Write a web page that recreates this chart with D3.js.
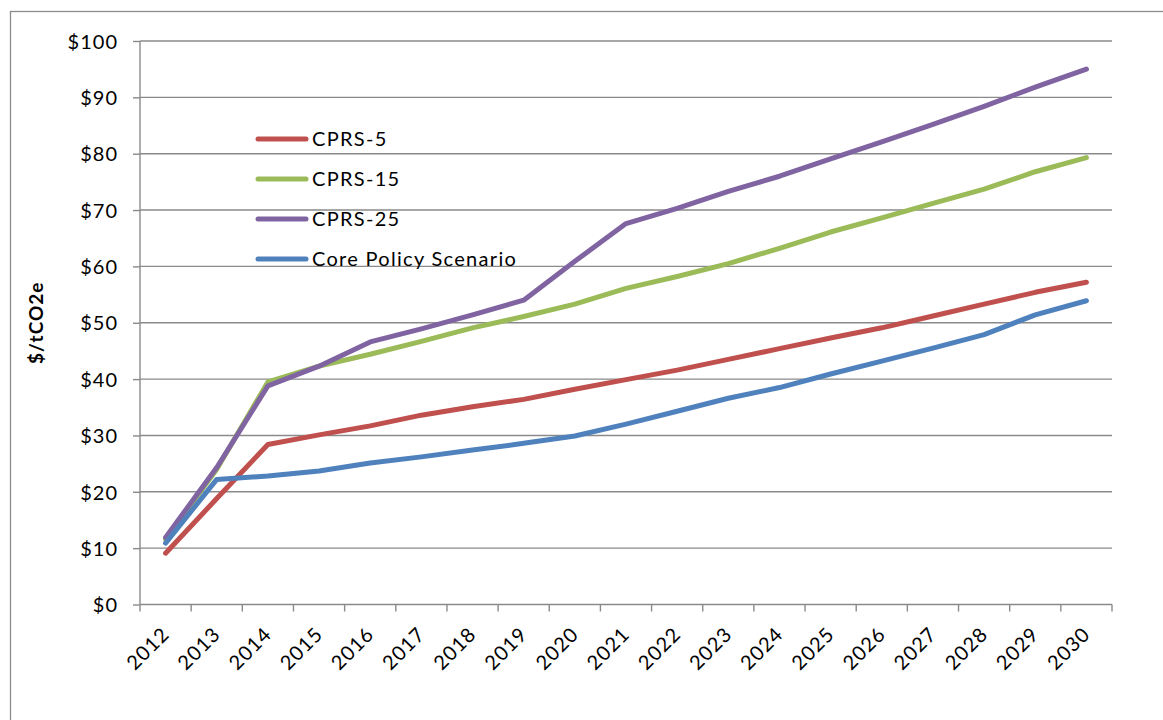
<!DOCTYPE html>
<html>
<head>
<meta charset="utf-8">
<script src="https://cdn.jsdelivr.net/npm/d3@7"></script>
<style>
  html, body { margin: 0; padding: 0; background: #fff; }
  svg { display: block; }
  text { font-family: Lato, "Open Sans", "DejaVu Sans", sans-serif; fill: #000; }
</style>
</head>
<body>
<svg id="chart" width="1163" height="720"></svg>
<script>
// Carbon price paths, $/tCO2e, 2012–2030
const years = ["2012","2013","2014","2015","2016","2017","2018","2019","2020","2021",
               "2022","2023","2024","2025","2026","2027","2028","2029","2030"];
const cprs5  = [9.1, 18.8, 28.4, 30.1, 31.7, 33.6, 35.1, 36.4, 38.2, 39.9,
                41.6, 43.5, 45.4, 47.3, 49.1, 51.2, 53.3, 55.4, 57.2];
const cprs15 = [11.6, 24.0, 39.5, 42.3, 44.4, 46.7, 49.1, 51.1, 53.3, 56.1,
                58.2, 60.5, 63.2, 66.1, 68.6, 71.2, 73.7, 76.8, 79.3];
const cprs25 = [11.9, 24.3, 38.8, 42.3, 46.6, 48.9, 51.4, 54.0, 60.9, 67.6,
                70.3, 73.3, 76.0, 79.1, 82.1, 85.2, 88.4, 91.8, 95.0];
const core   = [10.9, 22.2, 22.8, 23.7, 25.1, 26.2, 27.4, 28.6, 29.9, 32.0,
                34.3, 36.6, 38.5, 40.9, 43.2, 45.5, 47.9, 51.4, 53.9];
const seriesNames  = ["CPRS-5", "CPRS-15", "CPRS-25", "Core Policy Scenario"];
const seriesColors = ["#C0504D", "#9BBB59", "#8064A2", "#4F81BD"];
const yTicks = [0, 10, 20, 30, 40, 50, 60, 70, 80, 90, 100];
const yTitle = "$/tCO2e";

const series = [cprs5, cprs15, cprs25, core].map((vals, i) => ({
  name: seriesNames[i], color: seriesColors[i], values: vals
}));

const svg = d3.select("#chart");
const W = 1163, H = 720;
const plot = { left: 140, right: 1112, top: 41, bottom: 604.5 };

// outer chart frame (runs past the canvas on the right and bottom)
svg.append("rect")
  .attr("x", 10.5).attr("y", 11.5)
  .attr("width", W + 20).attr("height", H + 20)
  .attr("fill", "none").attr("stroke", "#8c8c8c").attr("stroke-width", 1.3);

const x = d3.scaleBand().domain(years).range([plot.left, plot.right]).padding(0);
const y = d3.scaleLinear().domain([0, 100]).range([plot.bottom, plot.top]);

// horizontal gridlines
svg.append("g")
  .selectAll("line")
  .data(yTicks.filter(d => d > 0))
  .join("line")
  .attr("x1", plot.left).attr("x2", plot.right)
  .attr("y1", d => y(d)).attr("y2", d => y(d))
  .attr("stroke", "#8a8a8a").attr("stroke-width", 1.4);

// y axis
const yAxis = svg.append("g")
  .attr("transform", `translate(${plot.left},0)`)
  .call(d3.axisLeft(y).tickValues(yTicks).tickSize(7).tickPadding(15)
    .tickFormat(d => "$" + d));
yAxis.selectAll("path, line").attr("stroke", "#8a8a8a").attr("stroke-width", 1.4);
yAxis.select(".domain").attr("d", `M0,${plot.top}V${plot.bottom}`);
yAxis.selectAll("text")
  .style("font-family", "Lato, 'Open Sans', sans-serif")
  .style("font-size", "20px").style("letter-spacing", "1px")
  .attr("dy", "0.36em");

// x axis: ticks on band boundaries, labels at band centres
const xAxisG = svg.append("g").attr("transform", `translate(0,${plot.bottom})`);
xAxisG.append("line")
  .attr("x1", plot.left).attr("x2", plot.right)
  .attr("stroke", "#8a8a8a").attr("stroke-width", 1.4);
const bounds = years.map(d => x(d)).concat([x(years[years.length - 1]) + x.bandwidth()]);
xAxisG.selectAll("line.tick")
  .data(bounds)
  .join("line").attr("class", "tick")
  .attr("x1", d => d).attr("x2", d => d)
  .attr("y1", 0).attr("y2", 7)
  .attr("stroke", "#8a8a8a").attr("stroke-width", 1.4);
xAxisG.selectAll("text")
  .data(years)
  .join("text")
  .attr("transform", d => `translate(${x(d) + x.bandwidth() / 2 + 5},${31}) rotate(-45)`)
  .attr("text-anchor", "end")
  .style("font-size", "20px").style("letter-spacing", "1px")
  .text(d => d);

// y axis title
svg.append("text")
  .attr("transform", `translate(43,${(plot.top + plot.bottom) / 2}) rotate(-90)`)
  .attr("text-anchor", "middle")
  .style("font-size", "19px").style("font-weight", "bold").style("letter-spacing", "1px")
  .text(yTitle);

// series lines
const line = d3.line()
  .x((d, i) => x(years[i]) + x.bandwidth() / 2)
  .y(d => y(d));

svg.append("g")
  .selectAll("path")
  .data(series)
  .join("path")
  .attr("d", d => line(d.values))
  .attr("fill", "none")
  .attr("stroke", d => d.color)
  .attr("stroke-width", 5)
  .attr("stroke-linecap", "round")
  .attr("stroke-linejoin", "round");

// legend
const legend = svg.append("g").attr("transform", "translate(258,139)");
const item = legend.selectAll("g")
  .data(series)
  .join("g")
  .attr("transform", (d, i) => `translate(0,${i * 40})`);
item.append("line")
  .attr("x1", 0).attr("x2", 48)
  .attr("stroke", d => d.color).attr("stroke-width", 5)
  .attr("stroke-linecap", "round");
item.append("text")
  .attr("x", 54).attr("y", 0).attr("dy", "0.36em")
  .style("font-size", "20px").style("letter-spacing", "1.3px")
  .text(d => d.name);
</script>
</body>
</html>
